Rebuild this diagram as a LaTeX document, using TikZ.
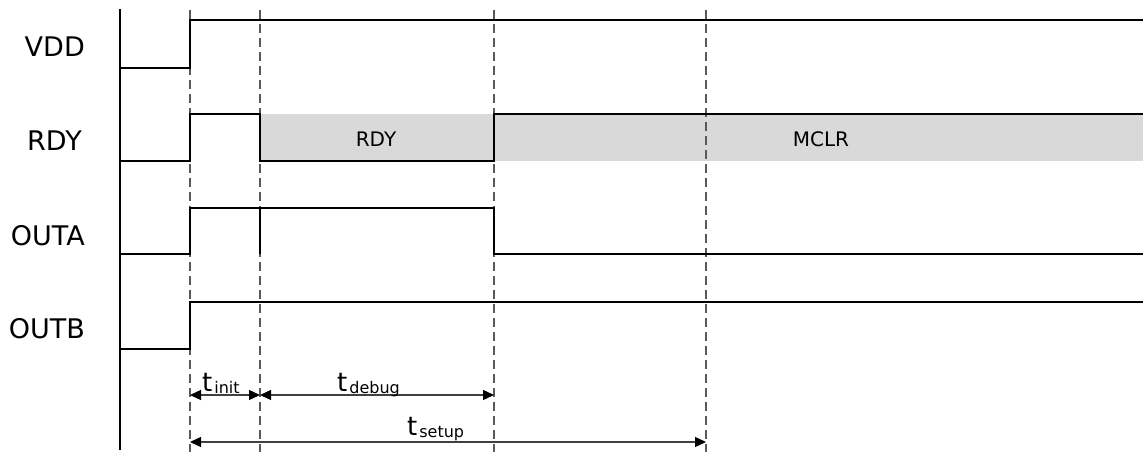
\documentclass[tikz,border=0pt]{standalone}
\usepackage{fontspec}
\setmainfont{DejaVu Sans}
\usetikzlibrary{arrows.meta}
\begin{document}
\begin{tikzpicture}[x=1pt,y=-1pt,
  sig/.style={line width=2.6pt,black,line join=miter},
  axisline/.style={line width=2pt,black},
  guide/.style={line width=1.2pt,black!65,dash pattern=on 9pt off 5pt},
  band/.style={fill=black!15,draw=none},
  lbl/.style={font=\fontsize{27}{27}\selectfont,inner sep=0pt,anchor=base east},
  bandtxt/.style={font=\fontsize{20}{20}\selectfont,inner sep=0pt},
  tlbl/.style={inner sep=0pt,anchor=base west},
  dim/.style={line width=1.3pt,black!75,{Triangle[length=11pt,width=10pt,black]}-{Triangle[length=11pt,width=10pt,black]}}
]
\useasboundingbox (0,0) rectangle (1143,452);
% coordinates
\coordinate (ax1) at (120,9);
\coordinate (ax2) at (120,450);
\foreach \n/\x in {g1/190,g2/260,g3/494,g4/706}{
  \coordinate (\n t) at (\x,10);
  \coordinate (\n b) at (\x,452);
}
% gray band
\fill[band] (260,114) rectangle (1143,161);
% guides
\foreach \n in {g1,g2,g3,g4}{ \draw[guide] (\n t) -- (\n b); }
% axis
\draw[axisline] (ax1) -- (ax2);
% signals
\draw[sig] (120,68) -- (190,68) -- (190,20) -- (1143,20);
\draw[sig] (120,161) -- (190,161) -- (190,114) -- (260,114) -- (260,161) -- (494,161) -- (494,114) -- (1143,114);
\draw[sig] (120,254) -- (190,254) -- (190,208) -- (494,208) -- (494,254) -- (1143,254);
\draw[sig] (260,208) -- (260,254);
\draw[sig] (120,349) -- (190,349) -- (190,302) -- (1143,302);
% labels
\node[lbl] (lvdd) at (85,57) {VDD};
\node[lbl] (lrdy) at (82,150) {RDY};
\node[lbl] (louta) at (85,245) {OUTA};
\node[lbl] (loutb) at (85,338) {OUTB};
\node[bandtxt] (brdy) at (376,139) {RDY};
\node[bandtxt] (bmclr) at (821,139) {MCLR};
% dimensions
\coordinate (d1a) at (190,395);
\coordinate (d1b) at (260,395);
\coordinate (d2a) at (260,395);
\coordinate (d2b) at (494,395);
\coordinate (d3a) at (190,442);
\coordinate (d3b) at (706,442);
\draw[dim] (d1a) -- (d1b);
\draw[dim] (d2a) -- (d2b);
\draw[dim] (d3a) -- (d3b);
\newcommand{\tsub}[1]{{\fontsize{26}{26}\selectfont t}\hspace{2pt}\raisebox{-2pt}{\fontsize{16}{16}\selectfont #1}}
\node[tlbl] (tinit) at (202,391) {\tsub{init}};
\node[tlbl] (tdebug) at (337,391) {\tsub{debug}};
\node[tlbl] (tsetup) at (407,435) {\tsub{setup}};
\end{tikzpicture}
\end{document}
